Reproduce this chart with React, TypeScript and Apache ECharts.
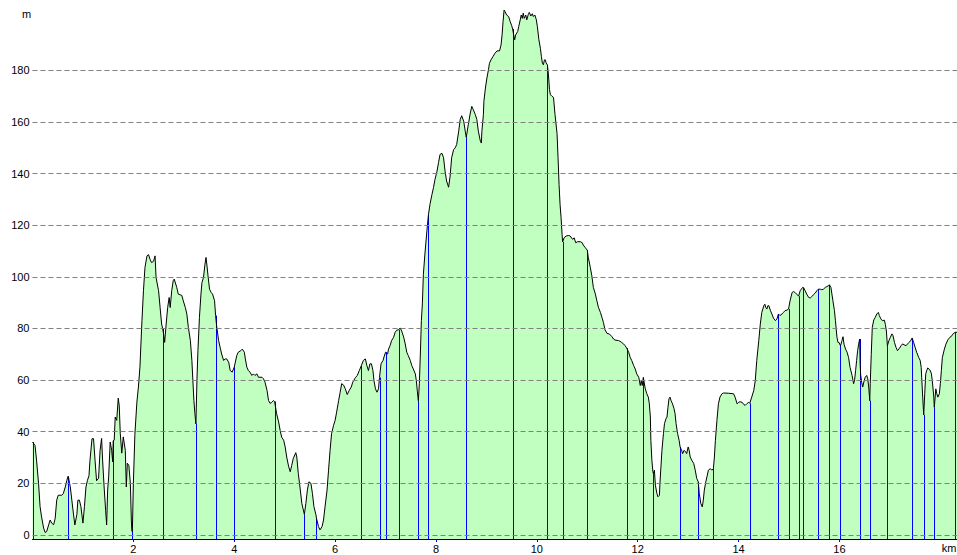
import React, { useEffect, useRef } from "react";
import * as echarts from "echarts";

// Elevation profile: distance (km) and elevation (m)
const profileKm = [
  0.0, 0.05, 0.08, 0.12, 0.15, 0.18, 0.22, 0.25, 0.28, 0.32, 0.35, 0.38, 0.42, 0.45, 0.48, 0.51, 0.58, 0.61, 0.65, 0.68,
  0.71, 0.73, 0.75, 0.78, 0.81, 0.84, 0.88, 0.9, 0.93, 0.96, 1.0, 1.03, 1.06, 1.09, 1.12, 1.14, 1.18, 1.21, 1.24, 1.27,
  1.31, 1.34, 1.37, 1.39, 1.42, 1.45, 1.47, 1.49, 1.51, 1.54, 1.57, 1.59, 1.62, 1.64, 1.67, 1.7, 1.72, 1.74, 1.77, 1.8,
  1.84, 1.86, 1.88, 1.91, 1.94, 1.96, 1.98, 2.0, 2.03, 2.07, 2.1, 2.13, 2.17, 2.2, 2.23, 2.27, 2.3, 2.33, 2.36, 2.4,
  2.43, 2.45, 2.5, 2.53, 2.56, 2.6, 2.62, 2.65, 2.68, 2.71, 2.73, 2.76, 2.79, 2.81, 2.86, 2.89, 2.96, 2.99, 3.03, 3.06,
  3.09, 3.13, 3.16, 3.18, 3.2, 3.22, 3.26, 3.28, 3.31, 3.34, 3.36, 3.39, 3.42, 3.44, 3.46, 3.48, 3.51, 3.54, 3.57, 3.61,
  3.65, 3.69, 3.72, 3.75, 3.79, 3.82, 3.85, 3.89, 3.92, 3.96, 4.05, 4.08, 4.13, 4.16, 4.2, 4.22, 4.25, 4.28, 4.31, 4.35,
  4.38, 4.41, 4.45, 4.48, 4.55, 4.58, 4.61, 4.65, 4.68, 4.71, 4.74, 4.78, 4.84, 4.88, 4.91, 4.94, 4.98, 5.01, 5.04, 5.08,
  5.11, 5.14, 5.17, 5.22, 5.24, 5.27, 5.31, 5.34, 5.37, 5.42, 5.45, 5.48, 5.52, 5.55, 5.58, 5.62, 5.67, 5.7, 5.74, 5.77,
  5.8, 5.84, 5.87, 5.9, 5.93, 5.97, 6.0, 6.03, 6.07, 6.1, 6.13, 6.17, 6.2, 6.24, 6.28, 6.32, 6.35, 6.4, 6.44, 6.48,
  6.56, 6.6, 6.63, 6.66, 6.69, 6.72, 6.75, 6.77, 6.8, 6.83, 6.86, 6.91, 6.95, 6.97, 7.04, 7.06, 7.09, 7.12, 7.16, 7.19,
  7.22, 7.29, 7.32, 7.36, 7.39, 7.42, 7.45, 7.49, 7.52, 7.55, 7.59, 7.61, 7.63, 7.67, 7.69, 7.71, 7.73, 7.75, 7.78, 7.82,
  7.88, 7.92, 7.95, 7.98, 8.02, 8.05, 8.08, 8.12, 8.15, 8.18, 8.21, 8.25, 8.28, 8.31, 8.35, 8.38, 8.41, 8.45, 8.48, 8.51,
  8.55, 8.58, 8.64, 8.68, 8.71, 8.74, 8.78, 8.81, 8.84, 8.88, 8.9, 8.91, 8.94, 8.95, 8.98, 9.01, 9.04, 9.06, 9.09, 9.13,
  9.17, 9.21, 9.26, 9.29, 9.31, 9.33, 9.35, 9.37, 9.4, 9.44, 9.47, 9.5, 9.54, 9.56, 9.58, 9.62, 9.64, 9.67, 9.69, 9.71,
  9.73, 9.75, 9.78, 9.8, 9.83, 9.85, 9.88, 9.91, 9.93, 9.96, 9.99, 10.01, 10.04, 10.07, 10.09, 10.11, 10.13, 10.15, 10.17, 10.18,
  10.23, 10.25, 10.27, 10.3, 10.33, 10.36, 10.4, 10.42, 10.44, 10.46, 10.48, 10.5, 10.54, 10.58, 10.63, 10.66, 10.71, 10.74, 10.77, 10.81,
  10.86, 10.9, 10.92, 10.96, 11.02, 11.06, 11.09, 11.12, 11.16, 11.19, 11.22, 11.26, 11.29, 11.32, 11.35, 11.39, 11.44, 11.49, 11.52, 11.55,
  11.62, 11.65, 11.68, 11.72, 11.75, 11.82, 11.85, 11.88, 11.92, 11.95, 11.98, 12.02, 12.05, 12.07, 12.09, 12.15, 12.18, 12.21, 12.23, 12.25,
  12.26, 12.28, 12.3, 12.33, 12.35, 12.38, 12.4, 12.43, 12.44, 12.46, 12.48, 12.51, 12.53, 12.56, 12.58, 12.6, 12.62, 12.64, 12.66, 12.69,
  12.72, 12.74, 12.76, 12.79, 12.82, 12.87, 12.89, 12.92, 12.95, 12.97, 13.0, 13.02, 13.04, 13.07, 13.11, 13.14, 13.17, 13.22, 13.25, 13.28,
  13.3, 13.32, 13.35, 13.38, 13.4, 13.44, 13.47, 13.52, 13.54, 13.57, 13.6, 13.63, 13.67, 13.7, 13.8, 13.9, 13.93, 13.97, 14.0, 14.03,
  14.07, 14.1, 14.13, 14.16, 14.2, 14.26, 14.3, 14.33, 14.36, 14.4, 14.43, 14.46, 14.5, 14.52, 14.54, 14.56, 14.58, 14.6, 14.63, 14.66,
  14.69, 14.73, 14.76, 14.82, 14.86, 14.89, 14.92, 14.96, 15.02, 15.06, 15.09, 15.12, 15.15, 15.22, 15.29, 15.32, 15.35, 15.39, 15.42, 15.45,
  15.48, 15.52, 15.55, 15.62, 15.65, 15.68, 15.72, 15.75, 15.78, 15.83, 15.85, 15.87, 15.9, 15.92, 15.95, 15.97, 15.99, 16.05, 16.07, 16.09,
  16.12, 16.15, 16.18, 16.21, 16.25, 16.28, 16.3, 16.32, 16.34, 16.36, 16.38, 16.41, 16.42, 16.44, 16.46, 16.49, 16.51, 16.54, 16.56, 16.58,
  16.61, 16.63, 16.65, 16.68, 16.71, 16.74, 16.77, 16.79, 16.82, 16.85, 16.89, 16.91, 16.93, 16.98, 17.01, 17.04, 17.06, 17.09, 17.12, 17.15,
  17.19, 17.22, 17.25, 17.28, 17.32, 17.35, 17.38, 17.42, 17.47, 17.5, 17.53, 17.57, 17.6, 17.62, 17.63, 17.65, 17.69, 17.71, 17.73, 17.75,
  17.79, 17.82, 17.84, 17.87, 17.91, 17.93, 17.95, 17.98, 18.0, 18.02, 18.04, 18.08, 18.11, 18.15, 18.19, 18.23, 18.26, 18.33,
];
const profileM = [
  36, 34.7, 29, 20, 11, 7, 2.7, 1, 1.3, 3.9, 5.8, 4.6, 4, 6.5, 13.5, 15.4, 15.4, 16, 18.6, 21,
  22.8, 20.5, 18.6, 13.5, 8.5, 3.9, 8, 13.5, 13.5, 11, 4.6, 11, 18.6, 21.2, 23, 29, 37.3, 37.3, 29, 21,
  22, 32.8, 37.4, 29, 18.6, 9.6, 3.9, 17.4, 22.5, 36, 32.8, 28.3, 36.7, 45.7, 44.4, 53, 50, 39.4, 31.7, 38,
  32.8, 18.6, 27.8, 27, 20, 5.8, 1.3, 20, 39, 51.5, 57.3, 65, 83, 94.6, 103.6, 108.1, 108.6, 106.8, 105.5, 106,
  108.1, 99.7, 94.6, 88.1, 81.7, 77.8, 74.6, 81.7, 88.1, 92, 88.1, 94.6, 98.5, 99.1, 95.9, 93.3, 92.8, 90.7, 88.1, 85.6,
  80.4, 75.3, 67.6, 59.8, 52.1, 47, 59.8, 71.4, 84.3, 93.3, 97.8, 99.7, 104.9, 107.5, 104.2, 100.4, 95.2, 94, 93.3, 90.7,
  81.1, 75.3, 72.7, 70.1, 67.6, 68.2, 68.2, 66.9, 63.7, 63.1, 69.5, 70.8, 71.4, 72, 70.8, 68.2, 65, 63.7, 63.1, 61.8,
  62.4, 61.8, 62.4, 61.1, 61.1, 60.5, 59.2, 56, 52.1, 51, 51.3, 52.1, 47, 43.8, 40.5, 37.9, 36.7, 34.1, 30.2, 26.4,
  24.5, 27, 29.6, 31.9, 30.2, 23.8, 17.4, 12.2, 9.7, 12.2, 17.4, 20.6, 20, 16.1, 11, 7.8, 3.3, 2, 3.2, 5.8,
  10.9, 17.4, 25.1, 32.8, 39.3, 42.5, 44.4, 47.6, 52.1, 55.3, 58.6, 58, 56.7, 54.4, 56, 57.3, 59.2, 60.9, 61.8, 63.7,
  67.6, 68.2, 65.6, 63.7, 66.3, 66.3, 63.7, 59.8, 56.6, 55.3, 56.6, 66.3, 67.6, 69, 70.1, 72, 73.4, 75.3, 76.6, 78.5,
  79.3, 80.2, 79, 76.6, 74, 70.8, 69.5, 67.6, 65.6, 64.3, 62.4, 59.8, 55.7, 58.6, 70.1, 83, 89.5, 101, 108.8, 117.8,
  128, 131.9, 134.5, 137.7, 140.9, 144.2, 147.4, 147.8, 146.1, 140.9, 137.1, 134.7, 139, 146.1, 149.3, 149.9, 151.2, 156.4, 160.9, 162.4,
  160.2, 156.4, 158.9, 163.4, 166, 164.7, 162.8, 160.9, 156.4, 152.5, 151.8, 156.4, 162.8, 168, 173.1, 177, 180.2, 182.7, 184, 185.3,
  186.6, 187.5, 187.5, 189.8, 193.7, 198.9, 203.3, 202.7, 201.4, 200.8, 198.9, 197.3, 193.7, 191.8, 193.7, 195, 196.9, 199.5, 201.4, 200.1,
  202.1, 200.1, 201.4, 199.5, 201.6, 202.4, 201, 201.9, 200.8, 201.4, 199.5, 196.9, 191.8, 188.5, 185.3, 182.7, 182.1, 184, 184, 183,
  178.2, 172.5, 170.5, 169.9, 169.5, 162.8, 155.5, 146.1, 135.8, 128, 122.9, 116.4, 115.1, 115.8, 116, 115.8, 114.5, 115.1, 113.2, 113.6,
  113.6, 113.2, 112.3, 111.3, 107.5, 103.6, 100.4, 95.9, 93.3, 90.7, 88.2, 86.2, 84.3, 82.3, 79.5, 78.1, 77.8, 76.8, 75.9, 75.5,
  75.3, 75, 74.6, 74, 73.3, 70.8, 68.8, 67.6, 65.6, 64.3, 62.4, 61.1, 57.9, 59.8, 57.9, 56.6, 54.7, 53.4, 50.8, 45.7,
  36.7, 29, 24.5, 25.1, 19.3, 16.1, 14.8, 15.4, 20, 26.4, 32.8, 39.3, 43.1, 45, 45.7, 49.5, 52.8, 53.4, 52.1, 50.8,
  48.9, 47, 43.1, 39.3, 36.7, 32.8, 31.5, 32.8, 32.2, 31.5, 34.1, 32.8, 30.2, 29, 27.7, 25.1, 21.9, 16.1, 12.2, 10.9,
  13.5, 17.4, 20.6, 23.2, 25.1, 25.7, 25.1, 30.2, 36.7, 44.4, 50.8, 53.4, 54.7, 55, 54.9, 54.7, 53.4, 50.8, 51.4, 51.6,
  51.4, 50.6, 50.2, 50.8, 51.4, 53.4, 55.9, 59.8, 67.6, 75.3, 81.7, 86.2, 88.8, 89.4, 88.1, 87.5, 88.8, 88.8, 87, 85.6,
  84, 83, 83.7, 85, 85.6, 86.2, 86.9, 87.1, 90.7, 93.9, 94.3, 93.9, 93.3, 94.6, 95.7, 94.6, 93.3, 92, 91.8, 92.3,
  93, 93.7, 94.6, 95.2, 95, 95.2, 95.9, 96.2, 96.5, 95.9, 93.3, 90.7, 86.9, 83, 76.6, 74.6, 74.6, 75.3, 76.8, 73.9,
  72, 70.8, 68.8, 64.9, 61.8, 58.6, 60.1, 63.7, 67.6, 71.4, 73.9, 66, 62, 59.2, 57.3, 59.8, 61.1, 61.8, 60.5, 57.3,
  58.6, 70, 80.4, 83.3, 84.3, 85.6, 86.2, 85, 83.7, 83, 83.2, 81.5, 79, 75.3, 76.6, 77.9, 77.3, 74.6, 72.7, 71.4,
  72.4, 73.3, 74, 73.7, 73.3, 74, 74.6, 75.5, 74.6, 72.7, 70.8, 68.8, 67.6, 64.9, 61.1, 53.4, 54.7, 62.4, 63.7, 64.7,
  64, 62.7, 59.8, 53.4, 56.6, 54.7, 53.4, 54.7, 58.6, 63.7, 68.8, 72, 73.9, 75.6, 76.6, 77.2, 78.1, 78.5,
];

// Waypoints (vertical markers): distance (km) and elevation (m)
const waypointKm = [
  0, 0.7, 1.6, 1.97, 2.58, 3.24, 3.63, 4.0, 4.8, 5.39, 5.63, 6.52, 6.88, 7.0, 7.26, 7.65, 7.85, 8.6, 9.52, 10.21,
  10.51, 11.0, 11.78, 12.11, 12.31, 12.84, 13.2, 13.5, 14.22, 14.79, 14.99, 15.19, 15.27, 15.58, 15.8, 16.02, 16.4, 16.6, 16.95, 17.44,
  17.67, 17.88, 18.3,
];
const waypointM = [
  36, 22.5, 36.5, 1.5, 80, 43, 85, 65, 51.7, 8, 6.5, 65.6, 61, 70.8, 79.5, 52, 124, 154, 196, 182,
  113.5, 110.3, 72.4, 61, 23.8, 34.1, 20.6, 25.7, 51, 85.6, 87.5, 92.5, 95.9, 95.2, 96.9, 73.3, 75.9, 52, 73.3, 76.3,
  46.5, 49.5, 78.5,
];

// Axis tick labels
const yTickValues = [0, 20, 40, 60, 80, 100, 120, 140, 160, 180];
const xTickValues = [2, 4, 6, 8, 10, 12, 14, 16];

const X_MAX = 18.33;
const Y_MIN = -1.55;
const Y_MAX = 205;
const FONT = '"Liberation Sans", Arial, sans-serif';

export default function App() {
  const ref = useRef<HTMLDivElement>(null);

  useEffect(() => {
    if (!ref.current) return;
    const chart = echarts.init(ref.current, null, { renderer: "svg" });

    const merged = [
      ...profileKm.map((k, i) => [k, profileM[i]]),
      ...waypointKm.map((k, i) => [k, waypointM[i]]),
    ].sort((a, b) => a[0] - b[0]);
    const waypoints = waypointKm.map((k, i) => [k, waypointM[i]]);

    const option: any = {
      animation: false,
      backgroundColor: "#ffffff",
      grid: { left: 32.5, right: 0, top: 5.7, bottom: 16, containLabel: false },
      xAxis: {
        type: "value",
        min: 0,
        max: X_MAX,
        interval: 2,
        axisLine: { show: true, onZero: false, lineStyle: { color: "#000000", width: 1 } },
        axisTick: {
          show: true,
          length: 3,
          customValues: xTickValues,
          lineStyle: { color: "#0000ff", width: 1 },
        },
        axisLabel: {
          show: true,
          customValues: xTickValues,
          margin: 4,
          color: "#000000",
          fontSize: 11,
          fontFamily: FONT,
          formatter: (v: number) => (xTickValues.indexOf(v) >= 0 ? String(v) : ""),
        },
        splitLine: { show: false },
      },
      yAxis: {
        type: "value",
        min: Y_MIN,
        max: Y_MAX,
        splitNumber: 10,
        axisLine: { show: false },
        axisTick: { show: false, customValues: yTickValues },
        axisLabel: {
          show: true,
          customValues: yTickValues,
          margin: 3,
          color: "#000000",
          fontSize: 11,
          fontFamily: FONT,
          formatter: (v: number) => (yTickValues.indexOf(v) >= 0 ? String(v) : ""),
        },
        splitLine: { show: false },
      },
      series: [
        {
          type: "line",
          name: "area",
          data: merged,
          showSymbol: false,
          symbol: "none",
          silent: true,
          z: 1,
          lineStyle: { width: 0, opacity: 0 },
          areaStyle: { color: "#c0ffc0", opacity: 1, origin: "start" },
          markLine: {
            silent: true,
            symbol: ["none", "none"],
            label: { show: false },
            z: 5,
            lineStyle: { color: "#808080", type: [5, 3], width: 1 },
            emphasis: { disabled: true },
            data: yTickValues.map((v) => ({ yAxis: v })),
          },
        },
        {
          type: "custom",
          name: "waypoints",
          data: waypoints,
          silent: true,
          z: 2,
          encode: { x: 0, y: 1 },
          renderItem: (_params: any, api: any) => {
            const km = api.value(0);
            const m = api.value(1);
            const top = api.coord([km, m]);
            const bottom = api.coord([km, Y_MIN]);
            const x = Math.round(top[0]) + 0.5;
            return {
              type: "line",
              shape: { x1: x, y1: bottom[1], x2: x, y2: top[1] },
              style: { stroke: "#0000ff", lineWidth: 1 },
            };
          },
        },
        {
          type: "line",
          name: "profile",
          data: merged,
          showSymbol: false,
          symbol: "none",
          silent: true,
          z: 3,
          lineStyle: { color: "#000000", width: 1 },
        },
      ],
      graphic: [
        {
          type: "text",
          x: 26.5,
          y: 14,
          style: {
            text: "m",
            fill: "#000000",
            font: `11px ${FONT}`,
            align: "center",
            verticalAlign: "middle",
            textAlign: "center",
            textVerticalAlign: "middle",
          },
        },
        {
          type: "text",
          x: 949,
          y: 548,
          style: {
            text: "km",
            fill: "#000000",
            font: `11px ${FONT}`,
            align: "center",
            verticalAlign: "middle",
            textAlign: "center",
            textVerticalAlign: "middle",
          },
        },
      ],
    };

    chart.setOption(option);
    return () => {
      chart.dispose();
    };
  }, []);

  return (
    <div
      ref={ref}
      style={{ position: "fixed", left: 0, top: 0, width: 957, height: 555, background: "#ffffff" }}
    />
  );
}
